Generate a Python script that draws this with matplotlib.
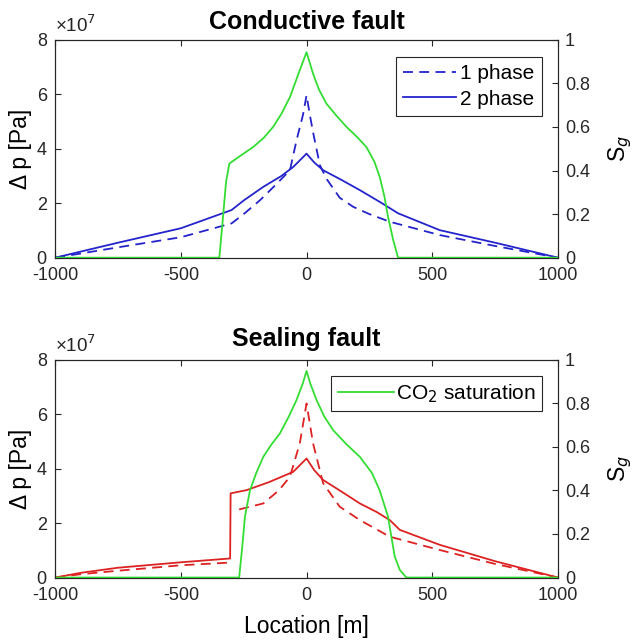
import matplotlib
matplotlib.use("Agg")
import matplotlib.pyplot as plt

plt.rcParams['font.family'] = ['Liberation Sans', 'DejaVu Sans']

NAN = float('nan')

# ---------------- data (pressure in units of 1e7 Pa) ----------------
x_top_green = [-1000, -347, -335, -320, -307, -260, -212, -170, -133, -100, -66, -27, 0,
               26, 50, 79, 120, 159, 200, 238, 270, 291, 310, 324, 345, 364, 1000]
sg_top = [0, 0, 0.15, 0.35, 0.432, 0.47, 0.508, 0.55, 0.60, 0.66, 0.737, 0.86, 0.943,
          0.844, 0.77, 0.707, 0.65, 0.60, 0.555, 0.508, 0.44, 0.371, 0.28, 0.188, 0.08, 0, 0]

x_top_2ph = [-1000, -900, -750, -500, -298, -250, -172, -100, -53, 0,
             30, 66, 140, 212, 300, 364, 530, 750, 1000]
dp_top_2ph = [0, 0.22, 0.55, 1.08, 1.75, 2.1, 2.6, 3.0, 3.33, 3.82,
              3.5, 3.21, 2.85, 2.48, 2.0, 1.63, 1.01, 0.55, 0]

x_top_1ph = [-1000, -900, -750, -500, -298, -250, -185, -120, -66, -40, -14, 0,
             14, 26, 53, 79, 132, 185, 250, 331, 530, 750, 1000]
dp_top_1ph = [0, 0.15, 0.38, 0.75, 1.26, 1.6, 2.11, 2.7, 3.21, 4.3, 5.25, 5.96,
              5.2, 4.6, 3.4, 2.9, 2.2, 1.87, 1.6, 1.32, 0.83, 0.43, 0]

x_bot_green = [-1000, -268, -255, -245, -225, -200, -172, -140, -106, -70, -40, -15, 0,
               15, 40, 70, 106, 160, 212, 260, 291, 324, 340, 351, 371, 397, 1000]
sg_bot = [0, 0, 0.15, 0.28, 0.40, 0.48, 0.554, 0.61, 0.661, 0.74, 0.814, 0.89, 0.948,
          0.89, 0.814, 0.74, 0.676, 0.61, 0.554, 0.48, 0.40, 0.28, 0.17, 0.096, 0.035, 0, 0]

x_bot_2ph = [-1000, -900, -750, -500, -304, -302, -238, -150, -53, 0,
             30, 66, 140, 212, 280, 331, 371, 530, 750, 1000]
dp_bot_2ph = [0, 0.17, 0.36, 0.56, 0.70, 3.09, 3.21, 3.5, 3.88, 4.37,
              3.95, 3.58, 3.15, 2.72, 2.4, 2.11, 1.75, 1.2, 0.6, 0]

x_bot_1ph = [-1000, -900, -750, -500, -304, NAN, -268, -172, -110, -66, -27, 0,
             26, 66, 132, 212, 331, 530, 750, 1000]
dp_bot_1ph = [0, 0.12, 0.25, 0.45, 0.55, NAN, 2.5, 2.72, 3.2, 3.7, 4.92, 6.39,
              4.92, 3.46, 2.6, 2.11, 1.5, 1.01, 0.5, 0]

xticks = [-1000, -500, 0, 500, 1000]
yticks_left = [0, 2, 4, 6, 8]
yticks_right = [0, 0.2, 0.4, 0.6, 0.8, 1]
yticklabels_right = ['0', '0.2', '0.4', '0.6', '0.8', '1']

BLUE = '#2424cc'
RED = '#dd2222'
GREEN = '#33dd33'
AXC = '#262626'
LW = 1.3
DASH = (0, (5.5, 3.5))

fig = plt.figure(figsize=(6.34, 6.41), dpi=100)


def make_axes(rect, title, tpad):
    ax = fig.add_axes(rect)
    ax2 = ax.twinx()
    for a in (ax, ax2):
        for s in a.spines.values():
            s.set_color(AXC)
            s.set_linewidth(0.8)
    ax.set_xlim(-1000, 1000)
    ax.set_ylim(0, 8)
    ax2.set_ylim(0, 1)
    ax.set_xticks(xticks)
    ax.set_xticklabels([str(v) for v in xticks])
    ax.set_yticks(yticks_left)
    ax.set_yticklabels([str(v) for v in yticks_left])
    ax2.set_yticks(yticks_right)
    ax2.set_yticklabels(yticklabels_right)
    ax.tick_params(axis='x', direction='in', top=True, length=4, labelsize=13, colors=AXC, pad=7)
    ax.tick_params(axis='y', direction='in', length=4, labelsize=13, colors=AXC, pad=6)
    ax2.tick_params(axis='y', direction='in', length=4, labelsize=13, colors=AXC, pad=5)
    ax.set_title(title, fontsize=18, fontweight='bold', pad=tpad)
    ax.set_ylabel('Δ p [Pa]', fontsize=16.5)
    ax.yaxis.set_label_coords(-0.046, 0.5)
    ax2.set_ylabel('S$_g$', fontsize=16.5)
    ax2.yaxis.set_label_coords(1.097, 0.5)
    ax.text(0.0, 1.015, '×10$^7$', transform=ax.transAxes, fontsize=13.5, color=AXC,
            ha='left', va='bottom')
    return ax, ax2


ax, ax2 = make_axes([0.087, 0.598, 0.793, 0.340], 'Conductive fault', 7.5)
l1, = ax.plot(x_top_1ph, dp_top_1ph, color=BLUE, lw=LW, ls=DASH, label='1 phase')
l2, = ax.plot(x_top_2ph, dp_top_2ph, color=BLUE, lw=LW, label='2 phase')
ax2.plot(x_top_green, sg_top, color=GREEN, lw=LW)
leg = ax2.legend(handles=[l1, l2], loc='upper right', bbox_to_anchor=(0.968, 0.92),
                 fontsize=15, handlelength=2.55, handletextpad=0.2, borderpad=0.35,
                 labelspacing=0.3, fancybox=False, framealpha=1, borderaxespad=0)
leg.get_frame().set_edgecolor(AXC)
leg.get_frame().set_linewidth(0.8)

bx, bx2 = make_axes([0.087, 0.099, 0.793, 0.340], 'Sealing fault', 10)
bx.plot(x_bot_1ph, dp_bot_1ph, color=RED, lw=LW, ls=DASH)
bx.plot(x_bot_2ph, dp_bot_2ph, color=RED, lw=LW)
g, = bx2.plot(x_bot_green, sg_bot, color=GREEN, lw=LW, label='CO$_2$ saturation')
leg2 = bx2.legend(handles=[g], loc='upper right', bbox_to_anchor=(0.968, 0.923),
                  fontsize=15, handlelength=2.7, handletextpad=0.1, borderpad=0.3,
                  fancybox=False, framealpha=1, borderaxespad=0)
leg2.get_frame().set_edgecolor(AXC)
leg2.get_frame().set_linewidth(0.8)
bx.set_xlabel('Location [m]', fontsize=16.5, labelpad=8)

fig.savefig('out.png', dpi=100)
